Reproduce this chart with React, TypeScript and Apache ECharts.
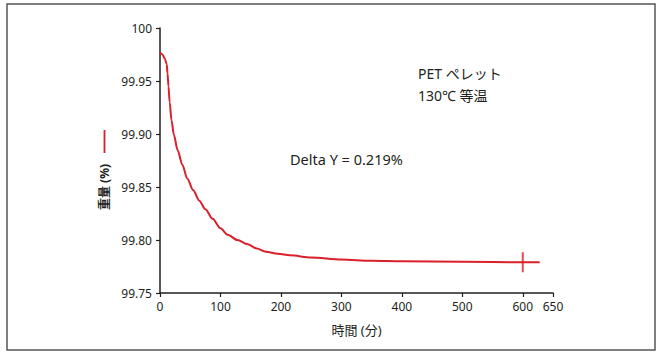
import React, { useEffect, useRef } from "react";
import * as echarts from "echarts";

const timeMin: number[] = [0, 4, 8, 11, 12.5, 14, 16, 19, 23, 29, 37, 45, 55, 65, 75, 87, 100, 112, 128, 145, 160, 175, 195, 215, 250, 300, 350, 400, 500, 600, 628];
const weightPct: number[] = [99.977, 99.975, 99.971, 99.966, 99.957, 99.945, 99.93, 99.913, 99.899, 99.885, 99.871, 99.858, 99.847, 99.837, 99.829, 99.82, 99.811, 99.805, 99.8, 99.796, 99.792, 99.789, 99.787, 99.7855, 99.7835, 99.7815, 99.7805, 99.78, 99.7795, 99.779, 99.779];
const crossMarker: number[][] = [[600, 99.779]];

const xAxisName = "時間 (分)";
const yAxisName = "重量 (%)";
const sampleLabel = ["PET ペレット", "130℃ 等温"];
const deltaLabel = "Delta Y = 0.219%";

const RED = "#d9202b";
const INK = "#231f20";
const FONT = "'Noto Sans', 'Noto Sans CJK JP', sans-serif";

export default function App() {
  const ref = useRef<HTMLDivElement>(null);
  useEffect(() => {
    if (!ref.current) return;
    const chart = echarts.init(ref.current, undefined, { renderer: "svg" });
    const lineData = timeMin.map((t, i) => [t, weightPct[i]]);
    chart.setOption({
      animation: false,
      backgroundColor: "#ffffff",
      textStyle: { fontFamily: FONT },
      grid: { left: 160, right: 109, top: 28, bottom: 62, containLabel: false },
      xAxis: {
        type: "value",
        min: 0,
        max: 650,
        interval: 100,
        name: xAxisName,
        nameLocation: "middle",
        nameGap: 30,
        nameTextStyle: { color: INK, fontSize: 13, fontFamily: FONT },
        axisLine: { show: true, lineStyle: { color: INK, width: 1.5 } },
        axisTick: { show: true, length: 4, lineStyle: { color: INK, width: 1.2 } },
        axisLabel: { color: INK, fontSize: 12, margin: 7, fontFamily: FONT },
        splitLine: { show: false },
      },
      yAxis: {
        type: "value",
        min: 99.75,
        max: 100,
        interval: 0.05,
        axisLine: { show: true, lineStyle: { color: INK, width: 1.5 } },
        axisTick: { show: true, length: 4, lineStyle: { color: INK, width: 1.2 } },
        axisLabel: {
          color: INK,
          fontSize: 12,
          margin: 8,
          fontFamily: FONT,
          formatter: (v: number) => (Math.abs(v - 100) < 1e-9 ? "100" : v.toFixed(2)),
        },
        splitLine: { show: false },
      },
      series: [
        {
          type: "line",
          data: lineData,
          smooth: 0.3,
          smoothMonotone: "x",
          showSymbol: false,
          symbol: "none",
          lineStyle: { color: RED, width: 2 },
        },
        {
          type: "scatter",
          data: crossMarker,
          symbol: "rect",
          symbolSize: [2, 20],
          itemStyle: { color: RED },
        },
      ],
      graphic: [
        {
          type: "rect",
          shape: { x: 7, y: 4, width: 648, height: 346 },
          style: { fill: "none", stroke: "#555555", lineWidth: 1.5 },
          silent: true,
        },
        {
          type: "text",
          x: 418,
          y: 66,
          style: { text: sampleLabel[0], fill: INK, fontSize: 14, fontFamily: FONT },
        },
        {
          type: "text",
          x: 418,
          y: 88,
          style: { text: sampleLabel[1], fill: INK, fontSize: 14, fontFamily: FONT },
        },
        {
          type: "text",
          x: 290,
          y: 152,
          style: { text: deltaLabel, fill: INK, fontSize: 14.5, fontFamily: FONT },
        },
        {
          type: "text",
          x: 104,
          y: 187,
          rotation: Math.PI / 2,
          style: {
            text: yAxisName,
            fill: INK,
            fontSize: 12,
            fontWeight: "bold",
            fontFamily: FONT,
            align: "center",
            verticalAlign: "middle",
          },
        },
        {
          type: "line",
          shape: { x1: 104.5, y1: 130, x2: 104.5, y2: 153 },
          style: { stroke: RED, lineWidth: 1.8 },
        },
      ],
    });
    return () => chart.dispose();
  }, []);
  return (
    <div
      ref={ref}
      style={{ position: "fixed", left: 0, top: 0, width: 662, height: 355, background: "#fff" }}
    />
  );
}
